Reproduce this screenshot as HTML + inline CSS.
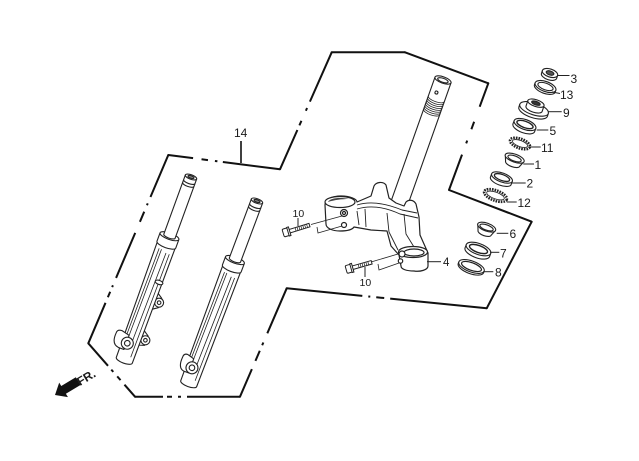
<!DOCTYPE html>
<html><head><meta charset="utf-8"><style>
html,body{margin:0;padding:0;background:#fff;}
svg{display:block;}
text{font-family:"Liberation Sans",Arial,sans-serif;fill:#1a1a1a;}
</style></head><body>
<svg width="639" height="461" viewBox="0 0 639 461" xmlns="http://www.w3.org/2000/svg">
<rect width="639" height="461" fill="#fff"/>

<!-- boundary -->
<g fill="none" stroke="#111" stroke-width="2">
 <line x1="331.7" y1="52.3" x2="405" y2="52.3"/>
 <line x1="405" y1="52.3" x2="488.3" y2="83.3"/>
 <line x1="488.3" y1="83.3" x2="449" y2="190" stroke-dasharray="25 16 8 12 3 12 300"/>
 <line x1="449" y1="190" x2="531.7" y2="221.7"/>
 <line x1="531.7" y1="221.7" x2="486.7" y2="308.3"/>
 <line x1="486.7" y1="308.3" x2="286.7" y2="288.3" stroke-dasharray="97 6 8 6 2 6 300"/>
 <line x1="286.7" y1="288.3" x2="240" y2="396.7" stroke-dasharray="49 10 3 6 11 9 300"/>
 <line x1="240" y1="396.7" x2="135" y2="396.7" stroke-dasharray="53 6 3 6 5 4 300"/>
 <line x1="135" y1="396.7" x2="88.3" y2="343.3" stroke-dasharray="16 6 5 6 3 5 300"/>
 <line x1="88.3" y1="343.3" x2="168.3" y2="155" stroke-dasharray="44 6 6 5 2 8 49 12 11 7 2 7 300"/>
 <line x1="168.3" y1="155" x2="280" y2="169.3" stroke-dasharray="25 8.5 6.5 7 2.5 5.5 300"/>
 <line x1="280" y1="169.3" x2="331.7" y2="52.3" stroke-dasharray="43 5 5 11 3 7 300"/>
</g>
<g fill="#111">
 <circle cx="331.7" cy="52.3" r="1"/><circle cx="405" cy="52.3" r="1"/><circle cx="488.3" cy="83.3" r="1"/>
 <circle cx="449" cy="190" r="1"/><circle cx="531.7" cy="221.7" r="1"/><circle cx="486.7" cy="308.3" r="1"/>
 <circle cx="286.7" cy="288.3" r="1"/><circle cx="240" cy="396.7" r="1"/><circle cx="135" cy="396.7" r="1"/>
 <circle cx="88.3" cy="343.3" r="1"/><circle cx="168.3" cy="155" r="1"/><circle cx="280" cy="169.3" r="1"/>
</g>

<!-- label 14 -->
<text x="234" y="137" font-size="12">14</text>
<line x1="241" y1="141" x2="241" y2="163" stroke="#111" stroke-width="1.6"/>

<!-- left fork -->
<g transform="translate(191,177) rotate(20)" fill="#fff" stroke="#222" stroke-width="1.1" stroke-linejoin="round">
  <path d="M8,120 L14,124 L14,134 L8,138 Z"/>
  <circle cx="13" cy="129" r="4.5"/><circle cx="13" cy="129" r="1.8"/>
  <path d="M8,160 L14,164 L14,174 L8,176 Z"/>
  <circle cx="13" cy="169" r="4.5"/><circle cx="13" cy="169" r="1.8"/>
  <path d="M-9.5,70 L-8.5,195 A8.5,3 0 0 0 8.5,195 L9.5,70 Z"/>
  <path d="M-5.5,78 L-6.5,170 M-3,78 L-4,172 M2.5,80 L1,176 M6,80 L5,190" fill="none" stroke-width="0.8"/>
  <ellipse cx="6" cy="110" rx="4" ry="2"/>
  <path d="M-17,172 Q-18,184 -10,185 L-4,185 L-4,170 L-12,168 Q-17,168 -17,172Z"/>
  <circle cx="-3" cy="178" r="6"/><circle cx="-3" cy="178" r="2.8"/>
  <path d="M-10,63 L-10,72 A10,3.2 0 0 0 10,72 L10,63"/>
  <ellipse cx="0" cy="63" rx="10" ry="3.2"/>
  <path d="M-6,0 L-6,63 A6,2 0 0 0 6,63 L6,0 Z"/>
  <path d="M-6,5 A6,2 0 0 0 6,5 M-6,8 A6,2 0 0 0 6,8" fill="none"/>
  <ellipse cx="0" cy="0" rx="6" ry="2.3"/>
  <ellipse cx="0" cy="0" rx="3.2" ry="1.2" fill="#888"/>
</g>

<!-- right fork -->
<g transform="translate(257,201) rotate(20.5)" fill="#fff" stroke="#222" stroke-width="1.1" stroke-linejoin="round">
  <path d="M-9.5,70 L-8.5,195 A8.5,3 0 0 0 8.5,195 L9.5,70 Z"/>
  <path d="M-5.5,78 L-6.5,170 M-3,78 L-4,172 M2.5,80 L1,176 M6,80 L5,190" fill="none" stroke-width="0.8"/>
  <path d="M-15,172 Q-16,184 -9,185 L-4,185 L-4,170 L-11,168 Q-15,168 -15,172Z"/>
  <circle cx="-2.5" cy="179" r="6"/><circle cx="-2.5" cy="179" r="2.8"/>
  <path d="M-10,63 L-10,72 A10,3.2 0 0 0 10,72 L10,63"/>
  <ellipse cx="0" cy="63" rx="10" ry="3.2"/>
  <path d="M-6,0 L-6,63 A6,2 0 0 0 6,63 L6,0 Z"/>
  <path d="M-6,5 A6,2 0 0 0 6,5 M-6,8 A6,2 0 0 0 6,8" fill="none"/>
  <ellipse cx="0" cy="0" rx="6" ry="2.3"/>
  <ellipse cx="0" cy="0" rx="3.2" ry="1.2" fill="#888"/>
</g>

<!-- steering stem tube -->
<g transform="translate(443,80) rotate(19.5)" fill="#fff" stroke="#222" stroke-width="1.1">
  <path d="M-8.5,0 L-8.5,140 L8.5,140 L8.5,0 Z"/>
  <path d="M-8.5,20 A8.5,3 0 0 0 8.5,20 M-8.5,22 A8.5,3 0 0 0 8.5,22 M-8.5,24 A8.5,3 0 0 0 8.5,24 M-8.5,26 A8.5,3 0 0 0 8.5,26 M-8.5,28 A8.5,3 0 0 0 8.5,28 M-8.5,30 A8.5,3 0 0 0 8.5,30 M-8.5,32 A8.5,3 0 0 0 8.5,32 M-8.5,34 A8.5,3 0 0 0 8.5,34" fill="none" stroke-width="0.8"/>
  <ellipse cx="0" cy="0" rx="8.5" ry="3.2"/>
  <ellipse cx="0" cy="0.3" rx="5.5" ry="2"/>
  <circle cx="-2" cy="14" r="1.5"/>
</g>

<!-- bottom bracket -->
<g fill="#fff" stroke="#222" stroke-width="1.2" stroke-linejoin="round">
  <path d="M325,205 C325,199 333,196 341,196 C350,196 357,199 357,202 L371,196 L374,186 C376,182 383,181 386,185 L389,198 L396,203 L404,206 L406,202 C409,199 414,200 416,204 L419,217 L420,235 L428,253 L428,266 C428,270 420,272 414,271 C406,271 401,269 401,266 L399,255 L391,246 L387,231 L371,230 L354,227 C352,230 346,231 340,231 C332,231 326,228 326,224 Z"/>
  <ellipse cx="340" cy="202" rx="15" ry="5.5"/>
  <path d="M328,202 C330,198 340,197 349,199 C342,199 334,200 328,202Z" fill="#444" stroke="none"/>
  <path d="M357,205 C370,201 385,203 402,210 L417,213 M357,209 C370,205 385,207 400,214 L418,218" fill="none" stroke-width="0.9"/>
  <path d="M387,213 L389,232 L398,250 M404,214 L406,234 L414,247" fill="none" stroke-width="0.9"/>
  <path d="M357,211 L359,225 M365,209 L366,227" fill="none" stroke-width="0.9"/>
  <circle cx="344" cy="213" r="3.5"/><circle cx="344" cy="213" r="1.5"/>
  <circle cx="344" cy="225" r="2.5"/>
  <ellipse cx="413" cy="252" rx="14.5" ry="5.5"/>
  <ellipse cx="414" cy="252.5" rx="10" ry="3.5"/>
  <circle cx="402" cy="254" r="3"/><circle cx="400.5" cy="261" r="2.2"/>
</g>

<!-- bolts -->
<g transform="translate(287,232) rotate(-17)" fill="#fff" stroke="#222" stroke-width="1">
  <rect x="2.5" y="-1.8" width="21" height="3.6"/>
  <path d="M9,-1.8 v3.6 M11,-1.8 v3.6 M13,-1.8 v3.6 M15,-1.8 v3.6 M17,-1.8 v3.6 M19,-1.8 v3.6 M21,-1.8 v3.6" stroke-width="0.7"/>
  <rect x="-4" y="-4" width="5.5" height="8" rx="1.2"/>
  <rect x="1" y="-4.5" width="1.8" height="9"/>
</g>
<g transform="translate(350,268.5) rotate(-16)" fill="#fff" stroke="#222" stroke-width="1">
  <rect x="2.5" y="-1.8" width="20" height="3.6"/>
  <path d="M9,-1.8 v3.6 M11,-1.8 v3.6 M13,-1.8 v3.6 M15,-1.8 v3.6 M17,-1.8 v3.6 M19,-1.8 v3.6" stroke-width="0.7"/>
  <rect x="-4" y="-4" width="5.5" height="8" rx="1.2"/>
  <rect x="1" y="-4.5" width="1.8" height="9"/>
</g>
<g fill="none" stroke="#222" stroke-width="0.8">
  <path d="M311,224.5 L342,216 M317,227 L318,233 L342,226"/>
  <path d="M371,262 L398,254 M378,264 L379,270 L399,263"/>
</g>

<!-- labels for 10 and 4 -->
<text x="292.5" y="217" font-size="10.5">10</text>
<line x1="298" y1="218" x2="298" y2="226" stroke="#222" stroke-width="1"/>
<text x="359.5" y="286" font-size="10.5">10</text>
<line x1="365" y1="267" x2="365" y2="277" stroke="#222" stroke-width="1"/>
<line x1="427" y1="261.7" x2="441" y2="261.7" stroke="#222" stroke-width="1"/>
<text x="443" y="266" font-size="11.5">4</text>

<!-- right stack parts -->
<g fill="#fff" stroke="#222" stroke-width="1.1">
  <g transform="translate(550,73) rotate(18)">
    <path d="M-8,0 L-8,3 A8,4 0 0 0 8,3 L8,0"/>
    <ellipse rx="8" ry="4"/>
    <ellipse rx="4" ry="2" fill="#555"/>
  </g>
  <g transform="translate(545.5,86.5) rotate(20)">
    <path d="M-11,0 L-11,2 A11,5 0 0 0 11,2 L11,0"/>
    <ellipse rx="11" ry="5"/>
    <ellipse rx="8" ry="3.3"/>
  </g>
  <g transform="translate(535,106) rotate(18)">
    <path d="M-15,3 L-15,6 A15,6 0 0 0 15,6 L15,3"/>
    <ellipse cx="0" cy="3" rx="15" ry="6"/>
    <path d="M-8.5,-3 L-8.5,3 A8.5,3.4 0 0 0 8.5,3 L8.5,-3"/>
    <ellipse cx="0" cy="-3" rx="8.5" ry="3.4"/>
    <ellipse cx="0" cy="-3" rx="4.5" ry="1.8" fill="#333"/>
  </g>
  <g transform="translate(525,124.5) rotate(20)">
    <path d="M-11.5,0 L-11.5,3.5 A11.5,5 0 0 0 11.5,3.5 L11.5,0"/>
    <ellipse rx="11.5" ry="5"/>
    <ellipse rx="8.5" ry="3.2" stroke-width="1.4"/>
  </g>
  <g transform="translate(520,143.5) rotate(20)">
    <ellipse rx="10.5" ry="4.8" stroke-width="2.6" stroke-dasharray="1.6 1"/>
    <ellipse rx="8" ry="3" fill="none" stroke-width="0.8"/>
  </g>
  <g transform="translate(514,160) rotate(20)">
    <path d="M-10,-2 L-7.5,4 A7.5,3 0 0 0 7.5,4 L10,-2"/>
    <ellipse cx="0" cy="-2" rx="10" ry="4"/>
    <ellipse cx="0" cy="-1.6" rx="7" ry="2.6"/>
  </g>
  <g transform="translate(502,177.5) rotate(20)">
    <path d="M-11,0 L-11,3.5 A11,4.5 0 0 0 11,3.5 L11,0"/>
    <ellipse rx="11" ry="4.5"/>
    <ellipse rx="8" ry="3" stroke-width="1.3"/>
  </g>
  <g transform="translate(495.5,195.5) rotate(20)">
    <ellipse rx="12" ry="5.2" stroke-width="2.6" stroke-dasharray="1.6 1"/>
    <ellipse rx="9.3" ry="3.3" fill="none" stroke-width="0.8"/>
  </g>
  <g transform="translate(486,229) rotate(20)">
    <path d="M-9.5,-2 L-7,4 A7,3 0 0 0 7,4 L9.5,-2"/>
    <ellipse cx="0" cy="-2" rx="9.5" ry="4"/>
    <ellipse cx="0" cy="-1.6" rx="7" ry="2.6"/>
  </g>
  <g transform="translate(478.5,249) rotate(20)">
    <path d="M-13,0 L-13,3.5 A13,5.5 0 0 0 13,3.5 L13,0"/>
    <ellipse rx="13" ry="5.5"/>
    <ellipse rx="9.5" ry="3.5" stroke-width="1.4"/>
  </g>
  <g transform="translate(471.5,266.5) rotate(20)">
    <path d="M-13.5,0 L-13.5,1.8 A13.5,5.5 0 0 0 13.5,1.8 L13.5,0"/>
    <ellipse rx="13.5" ry="5.5"/>
    <ellipse rx="10.5" ry="3.8" stroke-width="1.2"/>
  </g>
</g>

<!-- right stack leaders -->
<g stroke="#222" stroke-width="1">
  <line x1="557" y1="75.5" x2="569.5" y2="75.5"/>
  <line x1="552" y1="92" x2="560" y2="93.5"/>
  <line x1="548.5" y1="111.7" x2="561.7" y2="111.7"/>
  <line x1="536.7" y1="130" x2="548.3" y2="130"/>
  <line x1="528.3" y1="147" x2="540.7" y2="147"/>
  <line x1="523.3" y1="164" x2="534" y2="164"/>
  <line x1="511.7" y1="183" x2="525.7" y2="183"/>
  <line x1="506.7" y1="202" x2="516.7" y2="202"/>
  <line x1="496.7" y1="233.3" x2="508.3" y2="233.3"/>
  <line x1="490" y1="252.3" x2="499.3" y2="252.3"/>
  <line x1="483.3" y1="271.7" x2="493.3" y2="271.7"/>
</g>
<g font-size="12">
  <text x="570.5" y="83">3</text>
  <text x="560" y="99">13</text>
  <text x="563" y="117">9</text>
  <text x="549.5" y="135">5</text>
  <text x="541" y="152">11</text>
  <text x="534.5" y="169">1</text>
  <text x="526.5" y="187.5">2</text>
  <text x="517.5" y="207">12</text>
  <text x="509.5" y="238">6</text>
  <text x="500" y="257.5">7</text>
  <text x="495" y="276.5">8</text>
</g>

<!-- FR arrow -->
<g transform="translate(55,395) rotate(-31)">
  <polygon points="0,0 10,-8.5 10,-4.5 27,-4.5 27,4.5 10,4.5 10,8.5" fill="#111"/>
</g>
<text x="0" y="0" font-size="12" font-weight="bold" transform="translate(80,386) rotate(-31)">FR.</text>

</svg>
</body></html>
